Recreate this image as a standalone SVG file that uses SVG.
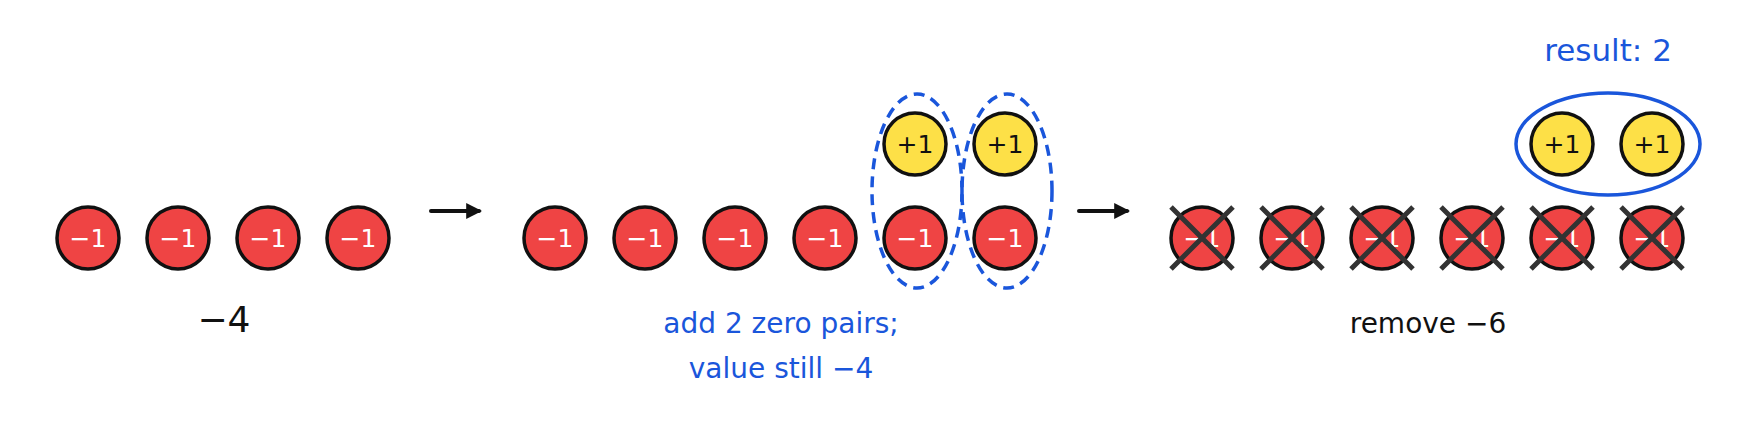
<svg xmlns="http://www.w3.org/2000/svg" width="1745" height="447" viewBox="0 0 1745 447">
<defs>
<style>
text{font-family:"DejaVu Sans","Noto Sans",sans-serif;text-anchor:middle}
.neg{fill:#ef4444;stroke:#111;stroke-width:3.5}
.pos{fill:#fde047;stroke:#111;stroke-width:3.5}
.nt{fill:#fff;font-size:25px}
.pt{fill:#111;font-size:25px}
.x{stroke:#333;stroke-width:5}
.blue{fill:#1a56db}
.dash{fill:none;stroke:#1a56db;stroke-width:3.5;stroke-dasharray:11 7}
</style>
<marker id="ah" viewBox="0 0 10 10" refX="8" refY="5" markerWidth="4" markerHeight="4" orient="auto"><path d="M0,0L10,5L0,10z" fill="#111"/></marker>
<g id="n"><circle class="neg" r="31"/><text class="nt" y="9">−1</text></g>
<g id="p"><circle class="pos" r="31"/><text class="pt" y="9">+1</text></g>
<g id="xn"><use href="#n"/><path class="x" d="M-31,-31L31,31M31,-31L-31,31"/></g>
</defs>
<g id="start">
<use href="#n" x="88" y="238"/><use href="#n" x="178" y="238"/><use href="#n" x="268" y="238"/><use href="#n" x="358" y="238"/>
<text x="224" y="332" font-size="36" fill="#111">−4</text>
</g>
<g id="middle">
<use href="#n" x="555" y="238"/><use href="#n" x="645" y="238"/><use href="#n" x="735" y="238"/><use href="#n" x="825" y="238"/><use href="#n" x="915" y="238"/><use href="#n" x="1005" y="238"/>
<use href="#p" x="915" y="144"/><use href="#p" x="1005" y="144"/>
<ellipse class="dash" cx="917" cy="191" rx="45" ry="97"/>
<ellipse class="dash" cx="1007" cy="191" rx="45" ry="97"/>
<text class="blue" x="781" y="333" font-size="28">add 2 zero pairs;</text>
<text class="blue" x="781" y="378" font-size="28">value still −4</text>
</g>
<g id="end">
<use href="#xn" x="1202" y="238"/><use href="#xn" x="1292" y="238"/><use href="#xn" x="1382" y="238"/><use href="#xn" x="1472" y="238"/><use href="#xn" x="1562" y="238"/><use href="#xn" x="1652" y="238"/>
<text x="1428" y="333" font-size="28" fill="#111">remove −6</text>
</g>
<g id="result">
<use href="#p" x="1562" y="144"/><use href="#p" x="1652" y="144"/>
<ellipse cx="1608" cy="144" rx="92" ry="51" fill="none" stroke="#1a56db" stroke-width="3.5"/>
<text class="blue" x="1608" y="61" font-size="31">result: 2</text>
</g>
<g id="connectors" stroke="#111" stroke-width="4" stroke-linecap="round">
<line x1="431" y1="211" x2="479" y2="211" marker-end="url(#ah)"/>
<line x1="1079" y1="211" x2="1127" y2="211" marker-end="url(#ah)"/>
</g>
</svg>
